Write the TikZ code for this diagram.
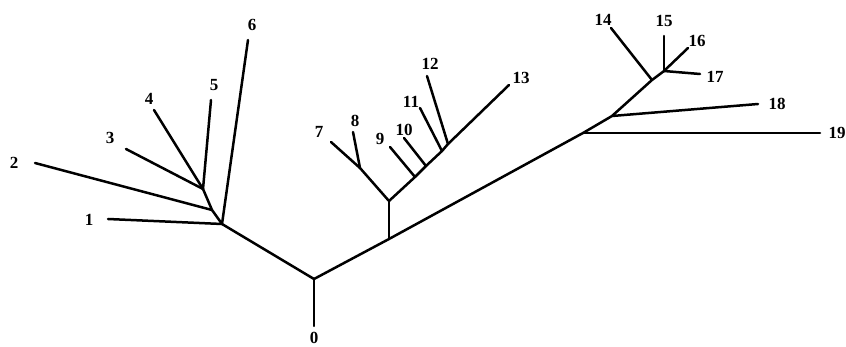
\documentclass[tikz,border=0pt]{standalone}
\usepackage{fontspec}
\setmainfont{Liberation Serif}
\begin{document}
\begin{tikzpicture}[x=1pt,y=-1pt,
  br/.style={line width=2.5pt,line cap=round,line join=round},
  lab/.style={font=\fontsize{17}{17}\selectfont\bfseries,inner sep=0pt}]
\useasboundingbox (0,0) rectangle (846,347);
% junctions
\coordinate (R) at (314,279);
\coordinate (A) at (222,224);
\coordinate (C) at (212,210);
\coordinate (B) at (203,189);
\coordinate (D) at (389,239);
\coordinate (E) at (389,201);
\coordinate (F) at (360,168);
\coordinate (J9) at (415,177);
\coordinate (J10) at (426,166);
\coordinate (J11) at (442,151);
\coordinate (J12) at (448,144);
\coordinate (G) at (583,133);
\coordinate (H) at (612,116);
\coordinate (I) at (652,80);
\coordinate (J) at (664,71);
% leaves
\coordinate (e0) at (314,326);
\coordinate (e1) at (108,219);
\coordinate (e2) at (35,163);
\coordinate (e3) at (126,149);
\coordinate (e4) at (154,110);
\coordinate (e5) at (211,100);
\coordinate (e6) at (248,40);
\coordinate (e7) at (331,142);
\coordinate (e8) at (353,132);
\coordinate (e9) at (390,147);
\coordinate (e10) at (404,138);
\coordinate (e11) at (420,108);
\coordinate (e12) at (427,76);
\coordinate (e13) at (509,85);
\coordinate (e14) at (611,28);
\coordinate (e15) at (664,36);
\coordinate (e16) at (688,48);
\coordinate (e17) at (700,74);
\coordinate (e18) at (758,104);
\coordinate (e19) at (820,133);
% labels
\node[lab] (t0) at (314,337.5) {0};
\node[lab] (t1) at (89,220) {1};
\node[lab] (t2) at (14,163) {2};
\node[lab] (t3) at (110,138) {3};
\node[lab] (t4) at (149,99) {4};
\node[lab] (t5) at (214,85) {5};
\node[lab] (t6) at (252,25) {6};
\node[lab] (t7) at (319,132) {7};
\node[lab] (t8) at (355,121) {8};
\node[lab] (t9) at (380,139) {9};
\node[lab] (t10) at (404,130) {10};
\node[lab] (t11) at (411,102) {11};
\node[lab] (t12) at (430,64) {12};
\node[lab] (t13) at (521,78) {13};
\node[lab] (t14) at (603,20) {14};
\node[lab] (t15) at (664,21) {15};
\node[lab] (t16) at (697,41) {16};
\node[lab] (t17) at (715,77) {17};
\node[lab] (t18) at (777,104) {18};
\node[lab] (t19) at (837,133) {19};
% backbone
\draw[br] (e0) -- (R);
\draw[br] (R) -- (A) -- (C) -- (B);
\draw[br] (R) -- (D) -- (G) -- (H) -- (I) -- (J) -- (e16);
\draw[br] (D) -- (E);
\draw[br] (E) -- (F) -- (e7);
\draw[br] (E) -- (J9) -- (J10) -- (J11) -- (J12) -- (e13);
% leaves
\draw[br] (A) -- (e1);
\draw[br] (A) -- (e6);
\draw[br] (C) -- (e2);
\draw[br] (B) -- (e3);
\draw[br] (B) -- (e4);
\draw[br] (B) -- (e5);
\draw[br] (F) -- (e8);
\draw[br] (J9) -- (e9);
\draw[br] (J10) -- (e10);
\draw[br] (J11) -- (e11);
\draw[br] (J12) -- (e12);
\draw[br] (I) -- (e14);
\draw[br] (J) -- (e15);
\draw[br] (J) -- (e17);
\draw[br] (H) -- (e18);
\draw[br] (G) -- (e19);
\end{tikzpicture}
\end{document}
